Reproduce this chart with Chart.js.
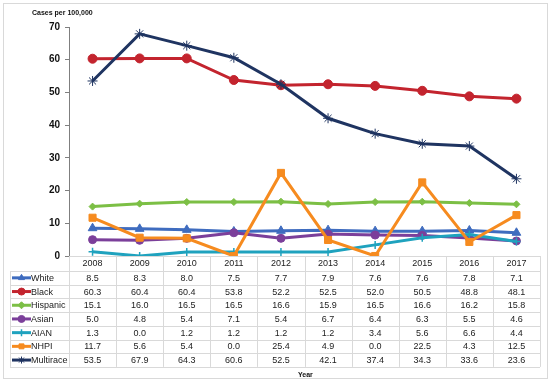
<!DOCTYPE html>
<html>
<head>
<meta charset="utf-8">
<script src="https://cdn.jsdelivr.net/npm/chart.js@4.4.1/dist/chart.umd.min.js"></script>
<style>
  html, body { margin: 0; padding: 0; background: #fff; }
  #wrap { width: 553px; height: 382px; position: relative; }
</style>
</head>
<body>
<div id="wrap"><canvas id="c" width="553" height="382"></canvas></div>
<script>
// data
const years = ['2008','2009','2010','2011','2012','2013','2014','2015','2016','2017'];
const white     = [8.5, 8.3, 8.0, 7.5, 7.7, 7.9, 7.6, 7.6, 7.8, 7.1];
const black     = [60.3, 60.4, 60.4, 53.8, 52.2, 52.5, 52.0, 50.5, 48.8, 48.1];
const hispanic  = [15.1, 16.0, 16.5, 16.5, 16.6, 15.9, 16.5, 16.6, 16.2, 15.8];
const asian     = [5.0, 4.8, 5.4, 7.1, 5.4, 6.7, 6.4, 6.3, 5.5, 4.6];
const aian      = [1.3, 0.0, 1.2, 1.2, 1.2, 1.2, 3.4, 5.6, 6.6, 4.4];
const nhpi      = [11.7, 5.6, 5.4, 0.0, 25.4, 4.9, 0.0, 22.5, 4.3, 12.5];
const multirace = [53.5, 67.9, 64.3, 60.6, 52.5, 42.1, 37.4, 34.3, 33.6, 23.6];
const yTicks = [0, 10, 20, 30, 40, 50, 60, 70];

const series = [
  { label: 'White',     data: white,     color: '#3F6CBF', style: 'triangle', r: 5,   bw: 1 },
  { label: 'Black',     data: black,     color: '#C3242E', style: 'circle',   r: 4.5, bw: 1 },
  { label: 'Hispanic',  data: hispanic,  color: '#7CBF45', style: 'rectRot',  r: 3.5, bw: 1 },
  { label: 'Asian',     data: asian,     color: '#7B3F9A', style: 'circle',   r: 4,   bw: 1 },
  { label: 'AIAN',      data: aian,      color: '#1FA2BE', style: 'cross',    r: 4,   bw: 1.5 },
  { label: 'NHPI',      data: nhpi,      color: '#F68B1F', style: 'rect',     r: 5,   bw: 1 },
  { label: 'Multirace', data: multirace, color: '#1F3461', style: 'star',     r: 5,   bw: 1 }
];

const FONT = '"Liberation Sans", Arial, sans-serif';
const gridCol = '#D9D9D9';
const rowH = 13.7;
const headH = 15;

// data table + frame + titles
const tablePlugin = {
  id: 'tablePlugin',
  afterDraw(chart) {
    const ctx = chart.ctx;
    const x = chart.scales.x;
    const area = chart.chartArea;
    const top = area.bottom;
    const left = area.left, right = area.right;
    const colW = (right - left) / years.length;
    const legL = 10;
    const rowsTop = top + headH;
    const bottom = rowsTop + rowH * series.length;
    ctx.save();

    // outer frame
    ctx.strokeStyle = '#D9D9D9';
    ctx.lineWidth = 1;
    ctx.strokeRect(3.5, 3.5, 544, 375);

    // grid lines of table
    ctx.strokeStyle = gridCol;
    ctx.beginPath();
    for (let i = 0; i <= years.length; i++) {
      const xx = Math.round(left + i * colW) + 0.5;
      ctx.moveTo(xx, top);
      ctx.lineTo(xx, bottom);
    }
    ctx.moveTo(legL + 0.5, rowsTop);
    ctx.lineTo(legL + 0.5, bottom);
    for (let r = 0; r <= series.length; r++) {
      const yy = Math.round(rowsTop + r * rowH) + 0.5;
      ctx.moveTo(legL, yy);
      ctx.lineTo(right, yy);
    }
    ctx.stroke();

    // year header
    ctx.textBaseline = 'middle';
    ctx.fillStyle = '#222';
    ctx.font = '9px ' + FONT;
    ctx.textAlign = 'center';
    years.forEach((y, i) => ctx.fillText(y, x.getPixelForValue(i), top + headH / 2 + 0.5));

    // rows
    series.forEach((s, r) => {
      const cy = rowsTop + r * rowH + rowH / 2;
      // legend key
      ctx.strokeStyle = s.color;
      ctx.lineWidth = 3;
      ctx.beginPath();
      ctx.moveTo(12, cy);
      ctx.lineTo(31, cy);
      ctx.stroke();
      ctx.fillStyle = s.color;
      ctx.strokeStyle = s.color;
      ctx.lineWidth = s.bw;
      Chart.helpers.drawPoint(ctx, { pointStyle: s.style, radius: Math.min(s.r, 3.5), borderWidth: s.bw }, 21.5, cy);
      ctx.fillStyle = '#222';
      ctx.font = '9px ' + FONT;
      ctx.textAlign = 'left';
      ctx.fillText(s.label, 31, cy + 0.5);
      ctx.textAlign = 'center';
      s.data.forEach((v, i) => {
        ctx.fillText(v.toFixed(1), x.getPixelForValue(i), cy + 0.5);
      });
    });

    // axis titles
    ctx.fillStyle = '#111';
    ctx.font = 'bold 7px ' + FONT;
    ctx.textAlign = 'left';
    ctx.fillText('Cases per 100,000', 32, 13);
    ctx.fillText('Year', 298, 375);
    ctx.restore();
  }
};

new Chart(document.getElementById('c'), {
  type: 'line',
  data: {
    labels: years,
    datasets: series.map((s, i) => ({
      label: s.label,
      data: s.data,
      borderColor: s.color,
      backgroundColor: s.color,
      borderWidth: 3,
      pointStyle: s.style,
      pointRadius: s.r,
      pointBorderWidth: s.bw,
      pointBorderColor: s.color,
      pointBackgroundColor: s.color,
      tension: 0,
      order: -i
    }))
  },
  options: {
    responsive: false,
    animation: false,
    layout: { padding: { left: 0, top: 27, right: 13, bottom: 382 - 256 - headH } },
    plugins: { legend: { display: false }, tooltip: { enabled: false }, title: { display: false } },
    scales: {
      x: {
        offset: true,
        afterFit(scale) { scale.height = headH; },
        grid: { display: false, drawTicks: false },
        border: { display: true, color: gridCol, width: 1 },
        ticks: { display: false }
      },
      y: {
        min: 0, max: 70,
        afterFit(scale) { scale.width = 69; },
        afterBuildTicks(scale) { scale.ticks = yTicks.map(v => ({ value: v })); },
        grid: { drawOnChartArea: false, drawTicks: true, tickLength: 4, color: '#7F7F7F' },
        border: { display: true, color: '#7F7F7F', width: 1 },
        ticks: { color: '#111', font: { family: FONT, size: 10, weight: 'bold' }, padding: 5 }
      }
    }
  },
  plugins: [tablePlugin]
});
</script>
</body>
</html>
